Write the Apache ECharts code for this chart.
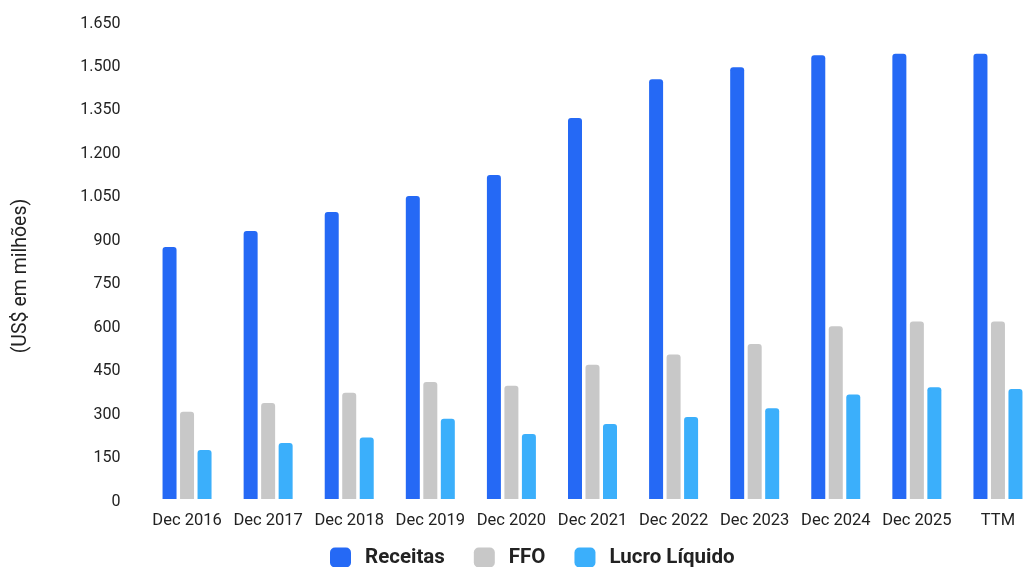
<!DOCTYPE html>
<html>
<head>
<meta charset="utf-8">
<script src="https://cdn.jsdelivr.net/npm/echarts@6/dist/echarts.min.js"></script>
<style>html,body{margin:0;padding:0;background:#fff}#c{width:1025px;height:567px}</style>
</head>
<body>
<div id="c"></div>
<script>
var categories = ['Dec 2016','Dec 2017','Dec 2018','Dec 2019','Dec 2020','Dec 2021','Dec 2022','Dec 2023','Dec 2024','Dec 2025','TTM'];
var receitas = [870, 925, 991, 1046, 1118, 1315, 1449, 1490, 1532, 1537, 1537];
var ffo = [301, 331, 367, 404, 391, 463, 499, 535, 596, 613, 613];
var lucro = [169, 193, 212, 277, 224, 259, 283, 313, 361, 386, 380];
var yTicks = [0,150,300,450,600,750,900,1050,1200,1350,1500,1650];

function fmt(v){ return '{a|' + String(v).replace(/\B(?=(\d{3})+(?!\d))/g,'.') + '}'; }

var chart = echarts.init(document.getElementById('c'));
var font = 'Roboto';
chart.setOption({
  animation:false,
  textStyle:{fontFamily:font},
  legend:{
    top:542, left:325, itemWidth:21, itemHeight:20, itemGap:29,
    icon:'roundRect',
    textStyle:{fontFamily:font,fontSize:20.5,fontWeight:'bold',color:'#222',padding:[0,0,0,9]},
    data:['Receitas','FFO','Lucro Líquido']
  },
  grid:{left:146.5, top:21, width:892, bottom:68, outerBoundsMode:'none', containLabel:false},
  xAxis:{
    type:'category', data:categories,
    axisLine:{show:false}, axisTick:{show:false},
    axisLabel:{fontFamily:font,fontSize:16.5,color:'#222',margin:13,interval:0}
  },
  yAxis:{
    type:'value', min:yTicks[0], max:yTicks[yTicks.length-1], interval:150,
    splitLine:{show:false}, axisLine:{show:false}, axisTick:{show:false},
    axisLabel:{fontFamily:font,fontSize:16,color:'#222',margin:26,formatter:fmt,
      rich:{a:{fontFamily:font,fontSize:16,color:'#222',padding:[5,0,0,0]}}},
    name:'(US$ em milhões)', nameLocation:'middle', nameGap:115,
    nameTextStyle:{fontFamily:font,fontSize:19.5,color:'#222',padding:[0,32,0,0]}
  },
  series:[
    {name:'Receitas',type:'bar',data:receitas,barWidth:14,barGap:'25%',itemStyle:{color:'#2569F5',borderRadius:[3,3,0,0]}},
    {name:'FFO',type:'bar',data:ffo,barWidth:14,barGap:'25%',itemStyle:{color:'#C8C8C8',borderRadius:[3,3,0,0]}},
    {name:'Lucro Líquido',type:'bar',data:lucro,barWidth:14,barGap:'25%',itemStyle:{color:'#3BAFFB',borderRadius:[3,3,0,0]}}
  ]
});
</script>
</body>
</html>
